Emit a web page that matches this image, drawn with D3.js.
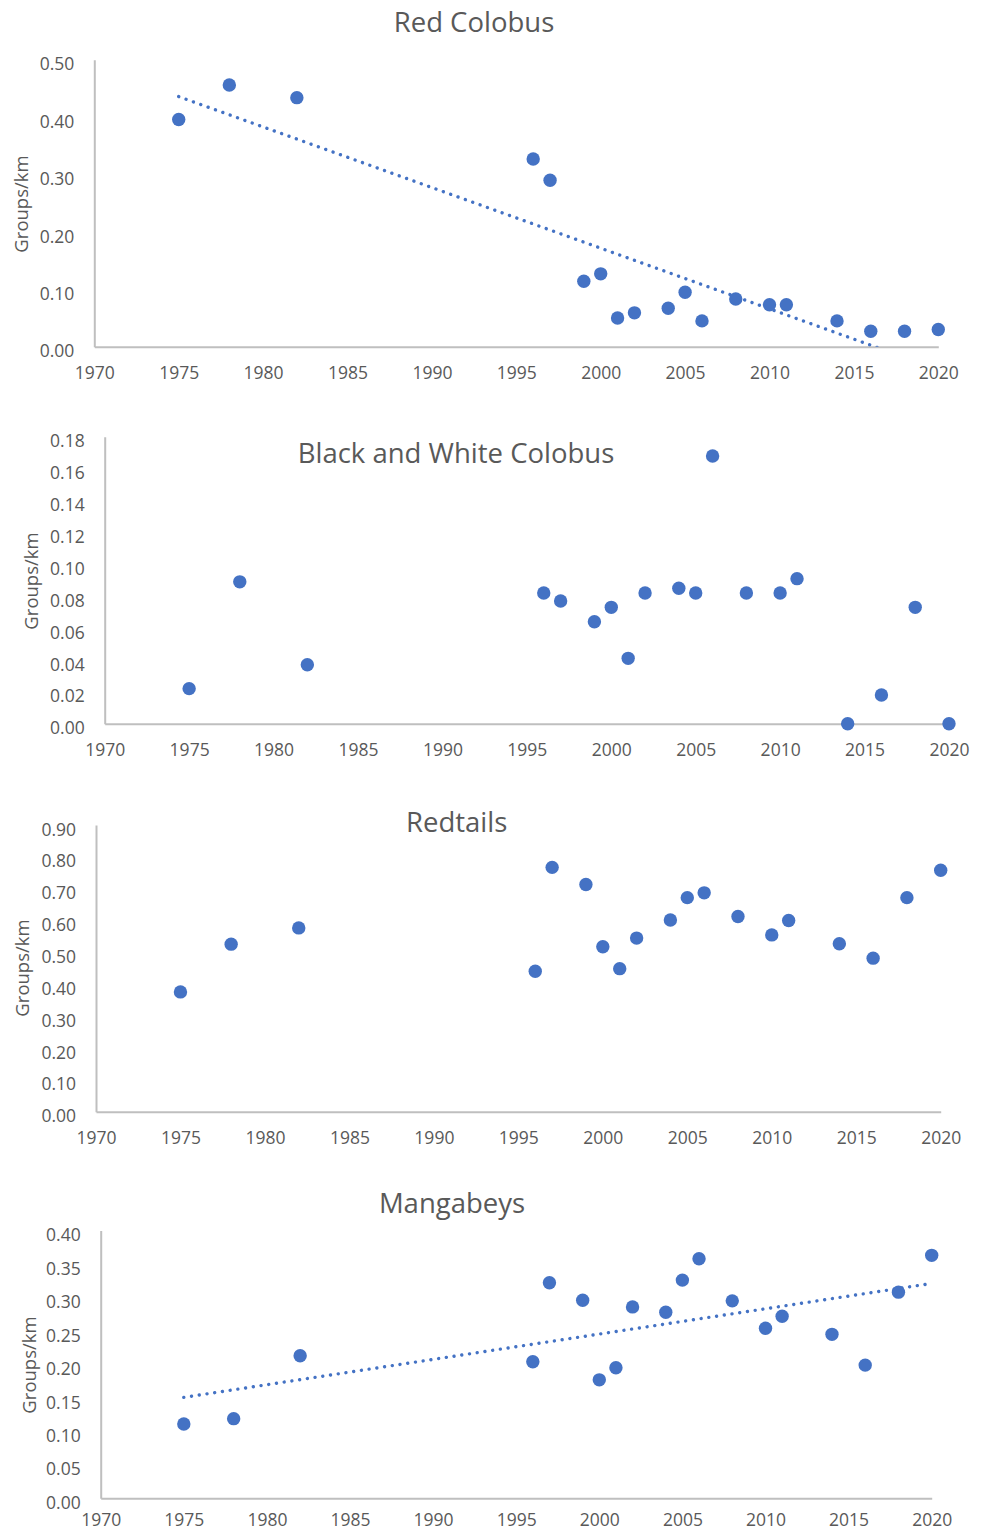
<!DOCTYPE html>
<html>
<head>
<meta charset="utf-8">
<script src="https://cdn.jsdelivr.net/npm/d3@7"></script>
<style>
  html, body { margin: 0; padding: 0; background: #ffffff; }
  svg { display: block; }
</style>
</head>
<body>
<svg id="chart" width="982" height="1532"></svg>
<script>
// ---------------- DATA ----------------
const years = [1975, 1978, 1982, 1996, 1997, 1999, 2000, 2001, 2002, 2004, 2005, 2006, 2008, 2010, 2011, 2014, 2016, 2018, 2020];

const redColobus = [0.396, 0.456, 0.434, 0.327, 0.290, 0.114, 0.127, 0.050, 0.059, 0.067, 0.095, 0.045, 0.083, 0.073, 0.073, 0.045, 0.027, 0.027, 0.030];
const bwColobus  = [0.022, 0.089, 0.037, 0.082, 0.077, 0.064, 0.073, 0.041, 0.082, 0.085, 0.082, 0.168, 0.082, 0.082, 0.091, 0.000, 0.018, 0.073, 0.000];
const redtails   = [0.376, 0.526, 0.577, 0.441, 0.767, 0.713, 0.518, 0.449, 0.545, 0.602, 0.672, 0.687, 0.613, 0.555, 0.600, 0.527, 0.482, 0.672, 0.758];
const mangabeys  = [0.111, 0.119, 0.213, 0.204, 0.322, 0.296, 0.177, 0.195, 0.286, 0.278, 0.326, 0.358, 0.295, 0.254, 0.272, 0.245, 0.199, 0.308, 0.363];

const xTicks = [1970, 1975, 1980, 1985, 1990, 1995, 2000, 2005, 2010, 2015, 2020];
const yTicksRed   = [0, 0.1, 0.2, 0.3, 0.4, 0.5];
const yTicksBW    = [0, 0.02, 0.04, 0.06, 0.08, 0.10, 0.12, 0.14, 0.16, 0.18];
const yTicksTails = [0, 0.1, 0.2, 0.3, 0.4, 0.5, 0.6, 0.7, 0.8, 0.9];
const yTicksMang  = [0, 0.05, 0.10, 0.15, 0.20, 0.25, 0.30, 0.35, 0.40];

const titles = ["Red Colobus", "Black and White Colobus", "Redtails", "Mangabeys"];
const yAxisTitle = "Groups/km";

// ---------------- LAYOUT ----------------
const panels = [
  { title: titles[0], values: redColobus, ticks: yTicksRed,   trend: true,
    left: 94.3, right: 938.3, top: 59.8, bottom: 346.7, xPad: 20.2,
    titleX: 474, titleY: 31.7, axTitleX: 21.5, axTitleY: 204 },
  { title: titles[1], values: bwColobus,  ticks: yTicksBW,    trend: false,
    left: 104.7, right: 949, top: 436.8, bottom: 723.7, xPad: 20.2,
    titleX: 456, titleY: 463.3, axTitleX: 31.7, axTitleY: 581 },
  { title: titles[2], values: redtails,   ticks: yTicksTails, trend: false,
    left: 96, right: 940.7, top: 825, bottom: 1111.7, xPad: 20.2,
    titleX: 456.7, titleY: 831.7, axTitleX: 23, axTitleY: 968 },
  { title: titles[3], values: mangabeys,  ticks: yTicksMang,  trend: true,
    left: 100.7, right: 931.7, top: 1230.6, bottom: 1498.3, xPad: 15.6,
    titleX: 452, titleY: 1213.3, axTitleX: 30, axTitleY: 1365 }
];

const BLUE = "#4472C4";
const TEXT = "#595959";
const AXIS = "#BFBFBF";
const FONT = "'Open Sans', 'Noto Sans', sans-serif";

const svg = d3.select("#chart");

function linreg(xs, ys) {
  const n = xs.length;
  const mx = d3.mean(xs), my = d3.mean(ys);
  let sxy = 0, sxx = 0;
  for (let i = 0; i < n; i++) { sxy += (xs[i] - mx) * (ys[i] - my); sxx += (xs[i] - mx) ** 2; }
  const b = sxy / sxx;
  return { a: my - b * mx, b };
}

panels.forEach((p, idx) => {
  const g = svg.append("g");
  const x = d3.scaleLinear().domain([1970, 2020]).range([p.left, p.right]);
  const ymax = p.ticks[p.ticks.length - 1];
  const y = d3.scaleLinear().domain([0, ymax]).range([p.bottom, p.top]);

  // Y axis
  const yAxis = d3.axisLeft(y).tickValues(p.ticks).tickSize(0).tickSizeOuter(0).tickPadding(20)
    .tickFormat(d3.format(".2f"));
  const yg = g.append("g").attr("transform", `translate(${p.left},0)`).call(yAxis);
  yg.attr("font-family", null).attr("font-size", null);
  yg.select(".domain").attr("stroke", AXIS).attr("stroke-width", 2);
  yg.selectAll("text").attr("y", 4).attr("dy", "0.35em")
    .attr("fill", TEXT).style("font-family", FONT).style("font-size", "17.5px");

  // X axis
  const xAxis = d3.axisBottom(x).tickValues(xTicks).tickSize(0).tickSizeOuter(0).tickPadding(p.xPad)
    .tickFormat(d3.format("d"));
  const xg = g.append("g").attr("transform", `translate(0,${p.bottom})`).call(xAxis);
  xg.attr("font-family", null).attr("font-size", null);
  xg.select(".domain").attr("stroke", AXIS).attr("stroke-width", 2);
  xg.selectAll("text").attr("fill", TEXT).style("font-family", FONT).style("font-size", "17.5px");

  // Title
  g.append("text").attr("x", p.titleX).attr("y", p.titleY)
    .attr("text-anchor", "middle").attr("fill", TEXT)
    .style("font-family", FONT).style("font-size", "27.5px")
    .text(p.title);

  // Axis title
  g.append("text")
    .attr("transform", `translate(${p.axTitleX},${p.axTitleY}) rotate(-90)`)
    .attr("text-anchor", "middle").attr("dy", "0.35em").attr("fill", TEXT)
    .style("font-family", FONT).style("font-size", "18.5px")
    .text(yAxisTitle);

  // Trendline (linear least squares of the series, clipped to the plot area)
  if (p.trend) {
    const clipId = "clip" + idx;
    svg.append("defs").append("clipPath").attr("id", clipId)
      .append("rect").attr("x", p.left - 5).attr("y", p.top - 5)
      .attr("width", p.right - p.left + 10).attr("height", p.bottom - p.top + 5);
    const r = linreg(years, p.values);
    const x0 = d3.min(years), x1 = d3.max(years);
    const line = d3.line().x(d => x(d[0])).y(d => y(d[1]));
    g.append("path")
      .datum([[x0, r.a + r.b * x0], [x1, r.a + r.b * x1]])
      .attr("d", line)
      .attr("clip-path", `url(#${clipId})`)
      .attr("fill", "none").attr("stroke", BLUE).attr("stroke-width", 3.4)
      .attr("stroke-linecap", "round").attr("stroke-dasharray", "0.01 7.8");
  }

  // Points
  g.append("g").selectAll("circle")
    .data(years.map((yr, i) => [yr, p.values[i]]))
    .join("circle")
    .attr("cx", d => x(d[0])).attr("cy", d => y(d[1]))
    .attr("r", 6.7).attr("fill", BLUE);
});
</script>
</body>
</html>
